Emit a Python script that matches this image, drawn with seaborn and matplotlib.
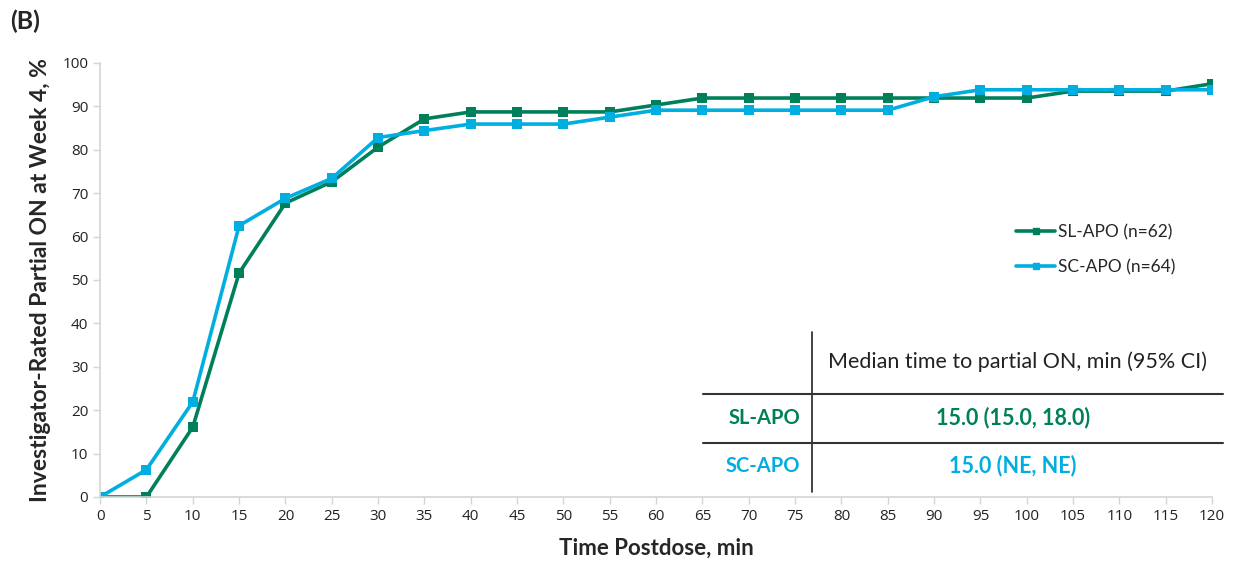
import numpy as np
import pandas as pd
import seaborn as sns
import matplotlib.pyplot as plt
from matplotlib.lines import Line2D

# time points (min) and % partial ON per group
minutes = list(range(0, 125, 5))
sl_apo = [0, 0, 16.1, 51.6, 67.7, 72.6, 80.6, 87.1, 88.7, 88.7, 88.7, 88.7, 90.3,
          91.9, 91.9, 91.9, 91.9, 91.9, 91.9, 91.9, 91.9, 93.5, 93.5, 93.5, 95.2]
sc_apo = [0, 6.3, 21.9, 62.5, 68.8, 73.4, 82.8, 84.4, 85.9, 85.9, 85.9, 87.5, 89.1,
          89.1, 89.1, 89.1, 89.1, 89.1, 92.2, 93.8, 93.8, 93.8, 93.8, 93.8, 93.8]
groups = ['SL-APO (n=62)', 'SC-APO (n=64)']
colors = ['#00805A', '#00AEDF']

table_header = 'Median time to partial ON, min (95% CI)'
table_rows = ['SL-APO', 'SC-APO']
table_vals = ['15.0 (15.0, 18.0)', '15.0 (NE, NE)']

df = pd.concat([
    pd.DataFrame({'min': minutes, 'pct': sl_apo, 'group': groups[0]}),
    pd.DataFrame({'min': minutes, 'pct': sc_apo, 'group': groups[1]}),
])

sns.set_style('white')
plt.rcParams['font.family'] = ['Lato', 'DejaVu Sans']

fig = plt.figure(figsize=(12.36, 5.71), dpi=100)
ax = fig.add_axes([0.081, 0.1296, 0.8997, 0.7603])

sns.lineplot(data=df, x='min', y='pct', hue='group', palette=colors,
             marker='s', markersize=6.5, markeredgewidth=0, linewidth=2.6,
             ax=ax, legend=False)

ax.set_xlim(0, 120)
ax.set_ylim(0, 100)
ax.set_xticks(minutes)
ax.set_yticks(range(0, 101, 10))
ax.tick_params(axis='both', labelsize=11, colors='#D0D6D6', labelcolor='#222222',
               length=5, width=1, direction='out', bottom=True, left=True)
for lbl in ax.get_xticklabels() + ax.get_yticklabels():
    lbl.set_family(['Open Sans', 'DejaVu Sans'])
for side in ['top', 'right']:
    ax.spines[side].set_visible(False)
for side in ['left', 'bottom']:
    ax.spines[side].set_color('#D0D6D6')
    ax.spines[side].set_linewidth(1.2)

ax.set_xlabel('Time Postdose, min', fontsize=16, fontweight='bold', labelpad=10)
ax.set_ylabel('Investigator-Rated Partial ON at Week 4, %', fontsize=16.5,
              fontweight='bold', labelpad=8)

handles = [Line2D([], [], color=c, marker='s', markersize=5, linewidth=2.6) for c in colors]
ax.legend(handles, groups, loc='upper left', bbox_to_anchor=(0.81, 0.665),
          frameon=False, fontsize=12.5, labelspacing=1.1, handlelength=2.2,
          handletextpad=0.2)

fig.text(0.008, 0.962, '(B)', fontsize=18, fontweight='bold', va='center')

# median time table (figure pixel coordinates)
W, H = 1236, 571
def fx(px):
    return px / W
def fy(py):
    return 1 - py / H

fig.add_artist(Line2D([fx(812), fx(812)], [fy(332), fy(492)], color='#222222', lw=1.2))
for yy in [394, 443]:
    fig.add_artist(Line2D([fx(703), fx(1223)], [fy(yy), fy(yy)], color='#333333', lw=1.5))
fig.text(fx(1017), fy(362), table_header, fontsize=15.5, ha='center', va='center',
         color='#222222')
for i, (lab, val) in enumerate(zip(table_rows, table_vals)):
    yy = fy(418 + 48 * i)
    fig.text(fx(800), yy, lab, fontsize=14.5, fontweight='bold', ha='right',
             va='center', color=colors[i])
    fig.text(fx(1013), yy, val, fontsize=15.5, fontweight='bold', ha='center',
             va='center', color=colors[i])

fig.savefig('out.png', dpi=100)
